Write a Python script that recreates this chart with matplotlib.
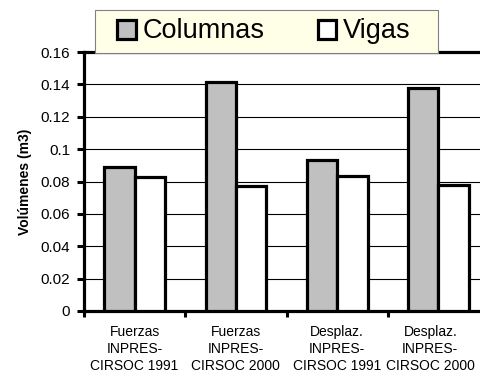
import numpy as np
import matplotlib.pyplot as plt
import matplotlib.transforms as mtransforms
from matplotlib.patches import Patch, Rectangle

plt.rcParams['font.family'] = ['Liberation Sans', 'DejaVu Sans']

# Volumes per analysis case
casos = ['Fuerzas\nINPRES-\nCIRSOC 1991', 'Fuerzas\nINPRES-\nCIRSOC 2000',
         'Desplaz.\nINPRES-\nCIRSOC 1991', 'Desplaz.\nINPRES-\nCIRSOC 2000']
columnas = [0.089, 0.1415, 0.093, 0.138]
vigas = [0.0825, 0.0775, 0.0835, 0.078]

yticks = [0, 0.02, 0.04, 0.06, 0.08, 0.1, 0.12, 0.14, 0.16]
ytick_labels = ['0', '0.02', '0.04', '0.06', '0.08', '0.1', '0.12', '0.14', '0.16']

W, H = 481, 376
fig = plt.figure(figsize=(W / 100, H / 100), dpi=100)
ax = fig.add_axes([84 / W, 65 / H, 405 / W, 259 / H])

x = np.arange(len(casos))
w = 0.3
ax.bar(x - w / 2, columnas, w, color='#c0c0c0', edgecolor='black', linewidth=2.3, zorder=3)
ax.bar(x + w / 2, vigas, w, color='white', edgecolor='black', linewidth=2.3, zorder=3)

ax.set_xlim(-0.5, len(casos) - 0.5)
ax.set_ylim(0, 0.16)
ax.set_yticks(yticks)
ax.set_yticklabels(ytick_labels, fontsize=11)
ax.yaxis.grid(True, color='black', linewidth=0.8, zorder=0)
ax.set_axisbelow(True)

# labels centred under each group, tick marks at group boundaries
ax.set_xticks(x)
ax.set_xticklabels(casos, fontsize=10, linespacing=1.3)
ax.set_xticks(np.arange(len(casos) + 1) - 0.5, minor=True)
ax.tick_params(axis='x', which='major', length=0, pad=10)
ax.tick_params(axis='x', which='minor', length=4, width=2.2, direction='out')
ax.tick_params(axis='y', length=5, width=2.2, direction='out', pad=5)

# nudge the last label left so it stays inside the figure
last = ax.get_xticklabels()[-1]
last.set_transform(last.get_transform() +
                   mtransforms.ScaledTranslation(-8 / 100, 0, fig.dpi_scale_trans))

for side in ['left', 'bottom', 'top']:
    ax.spines[side].set_linewidth(2.3)
ax.spines['right'].set_visible(False)

ax.set_ylabel('Volúmenes (m3)', fontsize=10, fontweight='bold', labelpad=6)

# legend box drawn as a figure patch, legend entries placed inside it
box = Rectangle((95 / W, 1 - 53 / H), 343 / W, 43 / H, transform=fig.transFigure,
                facecolor='#ffffe8', edgecolor='#808080', linewidth=0.8, zorder=9)
fig.patches.append(box)

handles = [Patch(facecolor='#c0c0c0', edgecolor='black', linewidth=2.3, label='Columnas'),
           Patch(facecolor='white', edgecolor='black', linewidth=2.3, label='Vigas')]
leg = fig.legend(handles=handles, loc='center left', bbox_to_anchor=(117 / W, 1 - 31.5 / H),
                 ncol=2, fontsize=19.5, frameon=False,
                 handlelength=0.7, handleheight=0.7, handletextpad=0.25, columnspacing=1.95,
                 borderpad=0, borderaxespad=0)
leg.set_zorder(10)

fig.savefig('out.png', dpi=100)
